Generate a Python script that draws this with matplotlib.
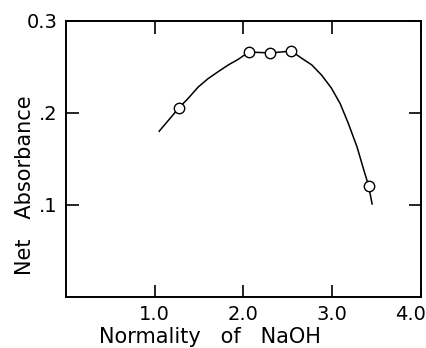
import matplotlib
matplotlib.use("Agg")
import matplotlib.pyplot as plt
from matplotlib.transforms import ScaledTranslation

# measured points (open circles)
normality = [1.27, 2.06, 2.30, 2.54, 3.41]
absorbance = [0.205, 0.266, 0.265, 0.267, 0.121]

# hand-drawn curve
curve_x = [1.05, 1.27, 1.38, 1.49, 1.60, 1.72, 1.83, 1.94, 2.06, 2.30, 2.54,
           2.66, 2.77, 2.88, 2.99, 3.09, 3.18, 3.28, 3.35, 3.41, 3.45]
curve_y = [0.180, 0.205, 0.216, 0.228, 0.237, 0.245, 0.252, 0.258, 0.266, 0.265, 0.267,
           0.259, 0.252, 0.241, 0.227, 0.210, 0.189, 0.163, 0.140, 0.121, 0.101]

x_ticks = [1.0, 2.0, 3.0, 4.0]
x_tick_labels = ["1.0", "2.0", "3.0", "4.0"]
y_ticks = [0.1, 0.2, 0.3]
y_tick_labels = [".1", ".2", "0.3"]

plt.rcParams["font.family"] = ["DejaVu Sans"]

fig = plt.figure(figsize=(4.26, 3.48), dpi=100)
ax = fig.add_axes([0.155, 0.1466, 0.833, 0.7939])

ax.plot(curve_x, curve_y, color="black", linewidth=1.1, zorder=2)
ax.plot(normality, absorbance, linestyle="none", marker="o", markersize=7.5,
        markerfacecolor="white", markeredgecolor="black", markeredgewidth=1.0, zorder=3)

ax.set_xlim(0, 4.0)
ax.set_ylim(0, 0.3)
ax.set_xticks(x_ticks)
ax.set_xticklabels(x_tick_labels)
ax.set_yticks(y_ticks)
ax.set_yticklabels(y_tick_labels)
ax.tick_params(direction="in", length=9, width=1.2, labelsize=14, pad=6,
               top=True, right=True)

# last x label sits inside the figure edge, as in the original
last = ax.get_xticklabels()[-1]
last.set_transform(last.get_transform() + ScaledTranslation(-10 / 100, 0, fig.dpi_scale_trans))

for s in ax.spines.values():
    s.set_linewidth(1.4)

ax.set_xlabel("Normality   of   NaOH", fontsize=15)
ax.set_ylabel("Net   Absorbance", fontsize=15)
ax.xaxis.set_label_coords(0.406, -0.145)
ax.yaxis.set_label_coords(-0.115, 0.405)
ax.xaxis.label.set_va("center")
ax.yaxis.label.set_va("center")

fig.savefig("out.png", dpi=100)
